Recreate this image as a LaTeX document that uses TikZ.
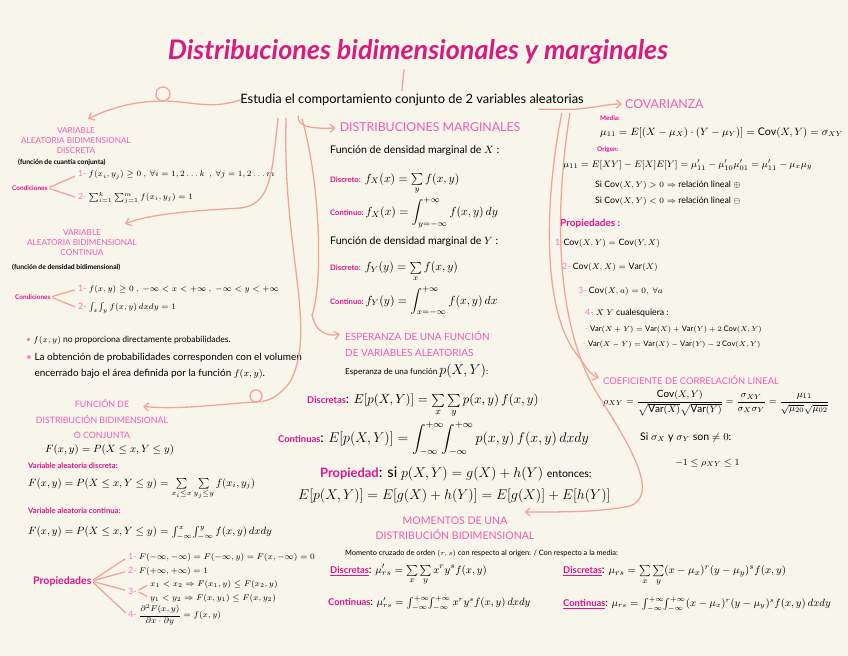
\documentclass[tikz,border=0pt]{standalone}
\usepackage{amsmath}
\usepackage{amssymb}
\usepackage{fontspec}
\setmainfont{Lato}
\usetikzlibrary{calc}
\usetikzlibrary{arrows.meta}
\definecolor{paper}{HTML}{F8F5EB}
\definecolor{titlepink}{HTML}{D81B7F}
\definecolor{headpink}{HTML}{F25CB0}
\definecolor{labpink}{HTML}{E0138A}
\definecolor{numpink}{HTML}{F27CC4}
\definecolor{linkpink}{HTML}{F2A39C}
\newcommand{\nm}[1]{\textcolor{numpink}{#1}}
\newcommand{\pinklab}[2][8]{{\color{labpink}\bfseries\fontsize{#1}{#1}\selectfont #2}}
\DeclareMathOperator{\Cov}{Cov}
\DeclareMathOperator{\Var}{Var}

\begin{document}
\begin{tikzpicture}[
            x=0.03cm, y=-0.03cm,
            hdr/.style={text=headpink, align=center, inner sep=0pt},
            txt/.style={anchor=west, inner sep=0pt, text=black},
            lbl/.style={anchor=west, inner sep=0pt, text=labpink, font=\bfseries\fontsize{5.5}{6}\selectfont},
            link/.style={draw=linkpink, line width=1.1pt, line cap=round},
            tip/.style={-{Straight Barb[length=4pt,width=7pt]}},
            branch/.style={link, shorten <=2pt, shorten >=3pt},
        ]
            \fill[paper] (0,0) rectangle (848,656);
            \useasboundingbox (0,0) rectangle (848,656);

            \node [text=titlepink, font=\bfseries\itshape\fontsize{23}{26}\selectfont, inner sep=0pt] (title) at (418,52)
                {Distribuciones bidimensionales y marginales};
            \node [txt, anchor=center, font=\fontsize{11}{13}\selectfont] (est) at (412,100)
                {Estudia el comportamiento conjunto de 2 variables aleatorias};

            \node [hdr, font=\fontsize{7}{8.5}\selectfont] (vd) at (76,141) {VARIABLE\\ALEATORIA BIDIMENSIONAL\\DISCRETA};
            \node [txt, font=\bfseries\fontsize{5.8}{6}\selectfont] (vdsub) at (18,162) {(función de cuantía conjunta)};
            \node [lbl] (cond1) at (12,188) {Condiciones};
            \node [txt, font=\fontsize{7.3}{9}\selectfont] (d1) at (78,175)
                {\nm{1-} $f(x_i,y_j)\geq 0\ ,\ \forall i=1,2\ldots k\ \ ,\ \forall j=1,2\ldots m$};
            \node [txt, font=\fontsize{7.3}{9}\selectfont] (d2) at (78,198)
                {\nm{2-} $\sum_{i=1}^{k}\sum_{j=1}^{m} f(x_i,y_j)=1$};
            \draw [branch] (cond1.east) -- (d1.west);
            \draw [branch] (cond1.east) -- (d2.west);

            \node [hdr, font=\fontsize{7}{8.5}\selectfont] (vc) at (82,243) {VARIABLE\\ALEATORIA BIDIMENSIONAL\\CONTINUA};
            \node [txt, font=\bfseries\fontsize{5.8}{6}\selectfont] (vcsub) at (12,267) {(función de densidad bidimensional)};
            \node [lbl] (cond2) at (15,297) {Condiciones};
            \node [txt, font=\fontsize{7.5}{9}\selectfont] (c1) at (78,289)
                {\nm{1-} $f(x,y)\geq 0\ ,\ -\infty<x<+\infty\ ,\ -\infty<y<+\infty$};
            \node [txt, font=\fontsize{7.5}{9}\selectfont] (c2) at (78,308)
                {\nm{2-} $\int_{x}\!\int_{y} f(x,y)\,dxdy=1$};
            \draw [branch] (cond2.east) -- (c1.west);
            \draw [branch] (cond2.east) -- (c2.west);
            \node [txt, font=\fontsize{7.3}{9}\selectfont] (b1) at (26,340)
                {\nm{\textbullet}\ $f(x,y)$ no proporciona directamente probabilidades.};
            \node [txt, align=left, font=\fontsize{8.5}{14}\selectfont] (b2) at (26,366)
                {\nm{\textbullet}\ La obtención de probabilidades corresponden con el volumen\\
                 \phantom{\textbullet\ }encerrado bajo el área definida por la función $f(x,y)$.};

            \node [hdr, font=\fontsize{7.5}{13}\selectfont] (fd) at (102,419) {FUNCIÓN DE\\DISTRIBUCIÓN BIDIMENSIONAL\\O CONJUNTA};
            \node [txt, font=\fontsize{9.5}{11}\selectfont] (fd1) at (45,450) {$F(x,y)=P(X\leq x,Y\leq y)$};
            \node [lbl, font=\bfseries\fontsize{6.5}{7}\selectfont] (fdl1) at (28,466) {Variable aleatoria discreta:};
            \node [txt, font=\fontsize{9}{11}\selectfont] (fd2) at (28,489)
                {$F(x,y)=P(X\leq x,Y\leq y)=\sum\limits_{x_i\leq x}\sum\limits_{y_j\leq y} f(x_i,y_j)$};
            \node [lbl, font=\bfseries\fontsize{6.5}{7}\selectfont] (fdl2) at (28,511) {Variable aleatoria continua:};
            \node [txt, font=\fontsize{9}{11}\selectfont] (fd3) at (28,533)
                {$F(x,y)=P(X\leq x,Y\leq y)=\int_{-\infty}^{x}\!\int_{-\infty}^{y} f(x,y)\,dxdy$};
            \node [lbl, font=\bfseries\fontsize{9}{10}\selectfont] (prop) at (33,581) {Propiedades};
            \node [txt, font=\fontsize{7.5}{9}\selectfont] (p1) at (128,557)
                {\nm{1-} $F(-\infty,-\infty)=F(-\infty,y)=F(x,-\infty)=0$};
            \node [txt, font=\fontsize{7.5}{9}\selectfont] (p2) at (128,571) {\nm{2-} $F(+\infty,+\infty)=1$};
            \node [txt, font=\fontsize{7.5}{9}\selectfont] (p3n) at (128,591) {\nm{3-}};
            \node [txt, font=\fontsize{7.5}{9}\selectfont] (p3a) at (150,584) {$x_1<x_2\Rightarrow F(x_1,y)\leq F(x_2,y)$};
            \node [txt, font=\fontsize{7.5}{9}\selectfont] (p3b) at (150,598) {$y_1<y_2\Rightarrow F(x,y_1)\leq F(x,y_2)$};
            \node [txt, font=\fontsize{7.5}{9}\selectfont] (p4) at (128,615)
                {\nm{4-} $\dfrac{\partial^2F(x,y)}{\partial x\cdot\partial y}=f(x,y)$};
            \draw [branch] (prop.east) -- (p1.west);
            \draw [branch] (prop.east) -- (p2.west);
            \draw [branch] (prop.east) -- (p3n.west);
            \draw [branch] (prop.east) -- (p4.west);
            \draw [branch] (p3n.east) -- (p3a.west);
            \draw [branch] (p3n.east) -- (p3b.west);

            \node [hdr, font=\fontsize{10.5}{12}\selectfont] (dm) at (430,127) {DISTRIBUCIONES MARGINALES};
            \node [txt, font=\fontsize{9}{11}\selectfont] (mx) at (330,151) {Función de densidad marginal de $X$ :};
            \node [txt, font=\fontsize{10}{12}\selectfont] (mx1) at (330,184)
                {\pinklab[6.5]{Discreto:} $f_X(x)=\sum\limits_{y} f(x,y)$};
            \node [txt, font=\fontsize{10}{12}\selectfont] (mx2) at (330,213)
                {\pinklab[6.5]{Continuo:}$\,f_X(x)=\displaystyle\int_{y=-\infty}^{+\infty} f(x,y)\,dy$};
            \node [txt, font=\fontsize{9}{11}\selectfont] (my) at (330,242) {Función de densidad marginal de $Y$ :};
            \node [txt, font=\fontsize{10}{12}\selectfont] (my1) at (330,272)
                {\pinklab[6.5]{Discreto:} $f_Y(y)=\sum\limits_{x} f(x,y)$};
            \node [txt, font=\fontsize{10}{12}\selectfont] (my2) at (330,301)
                {\pinklab[6.5]{Continuo:}$\,f_Y(y)=\displaystyle\int_{x=-\infty}^{+\infty} f(x,y)\,dx$};

            \node [hdr, anchor=west, align=left, font=\fontsize{8.5}{13.5}\selectfont] (esp) at (345,344)
                {ESPERANZA DE UNA FUNCIÓN\\DE VARIABLES ALEATORIAS};
            \node [txt, font=\fontsize{7}{9}\selectfont] (esp1) at (345,371)
                {Esperanza de una función {\fontsize{12}{14}\selectfont $p(X,Y)$}:};
            \node [txt, font=\fontsize{11}{13}\selectfont] (esp2) at (307,406)
                {\pinklab{Discretas}: $E[p(X,Y)]=\sum\limits_{x}\sum\limits_{y} p(x,y)\,f(x,y)$};
            \node [txt, font=\fontsize{11.5}{13}\selectfont] (esp3) at (278,439)
                {\pinklab{Continuas}: $E[p(X,Y)]=\displaystyle\int_{-\infty}^{+\infty}\!\!\int_{-\infty}^{+\infty} p(x,y)\,f(x,y)\,dxdy$};
            \node [txt, font=\fontsize{12.5}{14}\selectfont] (esp4) at (320,474)
                {\pinklab[11]{Propiedad}: si $p(X,Y)=g(X)+h(Y)$ {\fontsize{9}{10}\selectfont entonces:}};
            \node [txt, font=\fontsize{12.5}{14}\selectfont] (esp5) at (298,496)
                {$E[p(X,Y)]=E[g(X)+h(Y)]=E[g(X)]+E[h(Y)]$};

            \node [hdr, font=\fontsize{9}{13}\selectfont] (mom) at (455,528) {MOMENTOS DE UNA\\DISTRIBUCIÓN BIDIMENSIONAL};
            \node [txt, font=\fontsize{6.3}{7}\selectfont] (mom0) at (345,554)
                {Momento cruzado de orden $(r,s)$ con respecto al origen: / Con respecto a la media:};
            \node [txt, font=\fontsize{9.3}{10}\selectfont] (mom1) at (330,575)
                {\pinklab{\underline{Discretas}}: $\mu'_{rs}=\sum\limits_{x}\sum\limits_{y} x^ry^sf(x,y)$};
            \node [txt, font=\fontsize{9}{10}\selectfont] (mom2) at (328,603)
                {\pinklab{Continuas}: $\mu'_{rs}=\int_{-\infty}^{+\infty}\!\!\int_{-\infty}^{+\infty} x^ry^sf(x,y)\,dxdy$};
            \node [txt, font=\fontsize{9.5}{10}\selectfont] (mom3) at (563,576)
                {\pinklab{\underline{Discretas}}: $\mu_{rs}=\sum\limits_{x}\sum\limits_{y}(x-\mu_x)^r(y-\mu_y)^sf(x,y)$};
            \node [txt, font=\fontsize{9}{10}\selectfont] (mom4) at (563,604)
                {\pinklab{\underline{Continuas}}: $\mu_{rs}=\int_{-\infty}^{+\infty}\!\!\int_{-\infty}^{+\infty}(x-\mu_x)^r(y-\mu_y)^sf(x,y)\,dxdy$};

            \node [hdr, anchor=west, font=\fontsize{10.5}{12}\selectfont] (cov) at (625,104) {COVARIANZA};
            \node [lbl] (covm) at (600,118) {Media:};
            \node [txt, font=\fontsize{9}{11}\selectfont] (cov1) at (600,133)
                {$\mu_{11}=E[(X-\mu_X)\cdot(Y-\mu_Y)]=\Cov(X,Y)=\sigma_{XY}$};
            \node [lbl] (covo) at (597,150) {Origen:};
            \node [txt, font=\fontsize{8.5}{10}\selectfont] (cov2) at (563,165)
                {$\mu_{11}=E[XY]-E[X]E[Y]=\mu'_{11}-\mu'_{10}\mu'_{01}=\mu'_{11}-\mu_x\mu_y$};
            \node [txt, font=\fontsize{7.5}{9}\selectfont] (cov3) at (595,185)
                {Si $\Cov(X,Y)>0\Rightarrow$ relación lineal $\oplus$};
            \node [txt, font=\fontsize{7.5}{9}\selectfont] (cov4) at (595,201)
                {Si $\Cov(X,Y)<0\Rightarrow$ relación lineal $\ominus$};
            \node [lbl, font=\bfseries\fontsize{8.5}{10}\selectfont] (covp) at (560,224) {Propiedades :};
            \node [txt, font=\fontsize{7.5}{9}\selectfont] (cp1) at (555,243) {\nm{1-}$\Cov(X,Y)=\Cov(Y,X)$};
            \node [txt, font=\fontsize{7.5}{9}\selectfont] (cp2) at (562,267) {\nm{2-} $\Cov(X,X)=\Var(X)$};
            \node [txt, font=\fontsize{7.5}{9}\selectfont] (cp3) at (578,291) {\nm{3-} $\Cov(X,a)=0,\ \forall a$};
            \node [txt, font=\fontsize{7.5}{9}\selectfont] (cp4) at (585,313) {\nm{4-} $X$ $Y$ cualesquiera :};
            \node [txt, font=\fontsize{6.5}{8}\selectfont] (cp5) at (585,330)
                {\nm{-} $\Var(X+Y)=\Var(X)+\Var(Y)+2\Cov(X,Y)$};
            \node [txt, font=\fontsize{6.5}{8}\selectfont] (cp6) at (583,345)
                {\nm{-} $\Var(X-Y)=\Var(X)-\Var(Y)-2\Cov(X,Y)$};

            \node [hdr, anchor=west, font=\fontsize{8}{9}\selectfont] (cc) at (603,380) {COEFICIENTE DE CORRELACIÓN LINEAL};
            \node [txt, font=\fontsize{8.5}{10}\selectfont] (cc1) at (603,403)
                {$\rho_{XY}=\dfrac{\Cov(X,Y)}{\sqrt{\Var(X)}\sqrt{\Var(Y)}}=\dfrac{\sigma_{XY}}{\sigma_X\sigma_Y}=\dfrac{\mu_{11}}{\sqrt{\mu_{20}}\sqrt{\mu_{02}}}$};
            \node [txt, font=\fontsize{9}{10}\selectfont] (cc2) at (640,438) {Si $\sigma_X$ y $\sigma_Y$ son $\neq 0$:};
            \node [txt, font=\fontsize{8.5}{10}\selectfont] (cc3) at (675,463) {$-1\leq\rho_{XY}\leq 1$};

            \draw [link] ($(title.south)+(-14,5)$) -- ($(est.north)+(-10,-3)$);
            \draw [link] (163,94) circle (7);
            \draw [link, tip] (est.west) .. controls (210,110) and (190,101) .. (163,101)
                .. controls (135,101) and (110,108) .. ($(vd.north)+(12,-9)$);
            \draw [link, tip] ($(est.south west)+(38,12)$) .. controls (272,170) and (272,205) .. (240,208)
                .. controls (190,211) and (150,214) .. ($(vc.north)+(43,-6)$);
            \draw [link] (256,396) circle (6);
            \draw [link, tip] ($(est.south west)+(46,12)$) .. controls (282,250) and (318,330) .. (290,382)
                .. controls (280,395) and (270,402) .. (256,402)
                .. controls (220,404) and (180,410) .. ($(fd.north)+(41,7)$);
            \draw [link, tip] ($(est.south west)+(58,10)$) .. controls (298,126) and (308,129) .. ($(dm.west)+(-4,1)$);
            \draw [link, tip] ($(est.south west)+(62,13)$) .. controls (322,190) and (322,290) .. (312,315)
                .. controls (315,330) and (325,337) .. ($(esp.north west)+(-5,3)$);
            \draw [link, tip] ($(est.south east)+(-45,3)$) -- ($(est.south east)+(-8,3)$)
                .. controls (600,107) and (608,104) .. ($(cov.west)+(-3,0)$);
            \draw [link, tip] ($(est.south east)+(-22,7)$) .. controls (548,180) and (538,300) .. (575,352)
                .. controls (585,365) and (590,375) .. ($(cc.west)+(-4,-2)$);
            \draw [link, tip] ($(est.south east)+(-14,7)$) .. controls (556,200) and (552,320) .. (598,395)
                .. controls (630,445) and (660,495) .. (630,506)
                .. controls (600,512) and (570,512) .. ($(mom.east)+(-10,-16)$);
        \end{tikzpicture}
\end{document}
